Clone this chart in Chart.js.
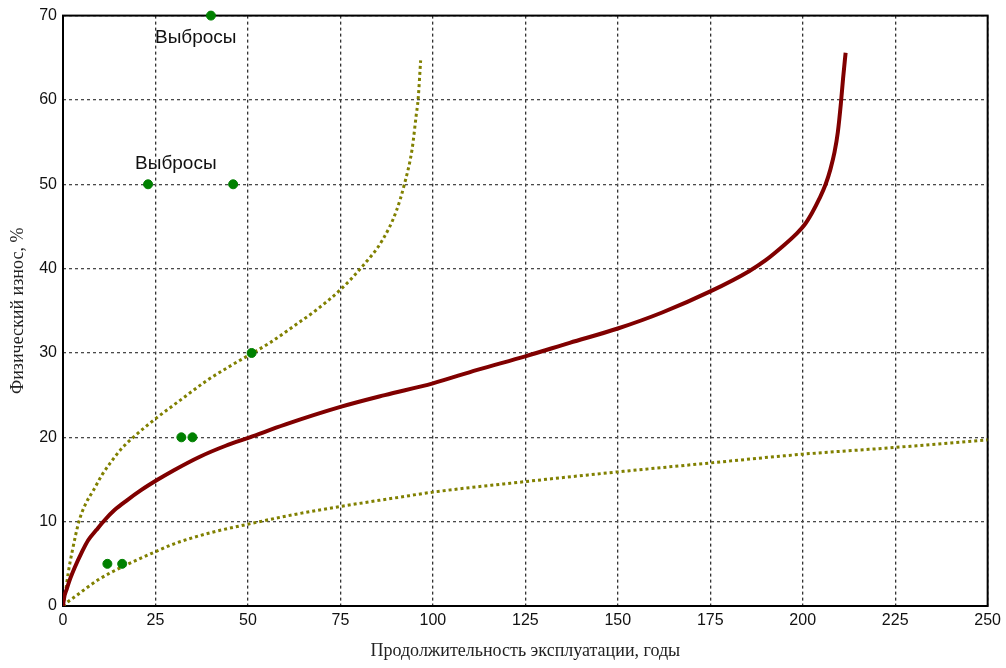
<!DOCTYPE html>
<html>
<head>
<meta charset="utf-8">
<script src="https://cdn.jsdelivr.net/npm/chart.js@4"></script>
<style>
    html, body { margin: 0; padding: 0; background: #ffffff; }
    canvas { display: block; }
</style>
</head>
<body>
<canvas id="wearChart" width="1006" height="668"></canvas>
<script>
// Axis ticks
const xTicks = [0, 25, 50, 75, 100, 125, 150, 175, 200, 225, 250];
const yTicks = [0, 10, 20, 30, 40, 50, 60, 70];

// Main (fitted) curve
const mainX = [0, 0.3, 1, 2, 3.2, 5, 6.8, 9, 11.3, 14, 17.2, 21, 25.3, 30, 37, 44, 50.5, 60, 75, 87, 100, 112, 125, 137, 150, 162, 175, 185.5, 190, 195, 198, 200.5, 202.5, 204.5, 206.2, 207.5, 208.6, 209.5, 210.3, 210.9, 211.6];
const mainY = [0, 1.0, 2.0, 3.3, 4.6, 6.3, 7.8, 9.0, 10.2, 11.4, 12.5, 13.7, 14.9, 16.1, 17.7, 19.0, 20.0, 21.5, 23.6, 25.0, 26.4, 28.0, 29.6, 31.2, 32.9, 34.8, 37.3, 39.7, 41.0, 42.8, 44.0, 45.2, 46.6, 48.3, 50.0, 51.8, 53.8, 56.2, 59.5, 62.5, 65.6];

// Upper bound (dotted)
const upperX = [0, 0.5, 1.4, 2.5, 4.3, 6, 8.2, 10.5, 12.7, 15.5, 19, 25.3, 32, 38.8, 45, 50.5, 55.9, 63.1, 68.5, 75, 81, 86.4, 90.1, 92.3, 94.4, 95.5, 96, 96.7];
const upperY = [0, 1.1, 3.9, 6.5, 10.0, 12.0, 13.7, 15.5, 16.9, 18.5, 20.0, 22.3, 24.5, 26.7, 28.4, 29.8, 31.2, 33.4, 35.1, 37.5, 40.3, 43.4, 46.8, 50.0, 54.2, 58.2, 60.0, 64.7];

// Lower bound (dotted)
const lowerX = [0, 1, 3.2, 9.5, 15.8, 24.8, 30.2, 40, 50, 62, 75, 91, 100, 125, 150, 175, 200, 225, 250];
const lowerY = [0, 0.4, 1.1, 3.1, 4.6, 6.4, 7.4, 8.7, 9.7, 10.8, 11.8, 12.9, 13.5, 14.75, 15.9, 16.96, 18.0, 18.8, 19.7];

// Observations
const obsX = [40, 23, 46, 51, 32, 35, 12, 16];
const obsY = [70, 50, 50, 30, 20, 20, 5, 5];

// Text notes placed in data units
const noteText = ['Выбросы', 'Выбросы'];
const noteX = [35.9, 30.5];
const noteY = [67.4, 52.4];

const toPoints = (xs, ys) => xs.map((x, i) => ({ x: x, y: ys[i] }));

const frameAndNotes = {
    id: 'frameAndNotes',
    beforeDatasetsDraw(chart) {
        const { ctx, chartArea: a } = chart;
        ctx.save();
        ctx.strokeStyle = '#000000';
        ctx.lineWidth = 2;
        ctx.strokeRect(a.left, a.top, a.right - a.left, a.bottom - a.top);
        ctx.restore();
    },
    afterDatasetsDraw(chart) {
        const { ctx, scales } = chart;
        ctx.save();
        ctx.font = '19px "Liberation Sans", Arial, sans-serif';
        ctx.fillStyle = '#111111';
        ctx.textAlign = 'center';
        ctx.textBaseline = 'middle';
        noteText.forEach((t, i) => {
            ctx.fillText(t, scales.x.getPixelForValue(noteX[i]), scales.y.getPixelForValue(noteY[i]));
        });
        ctx.restore();
    }
};

const tickFont = { family: '"Liberation Sans", Arial, sans-serif', size: 16 };
const titleFont = { family: '"Liberation Serif", "Times New Roman", serif', size: 18 };

new Chart(document.getElementById('wearChart'), {
    type: 'scatter',
    data: {
        datasets: [
            {
                label: 'Выбросы',
                data: toPoints(obsX, obsY),
                backgroundColor: '#008000',
                borderColor: '#008000',
                pointRadius: 4.5,
                clip: false,
                order: 0
            },
            {
                label: 'Физический износ',
                data: toPoints(mainX, mainY),
                showLine: true,
                borderColor: '#800000',
                borderWidth: 4,
                pointRadius: 0,
                cubicInterpolationMode: 'monotone',
                order: 1
            },
            {
                label: 'Верхняя граница',
                data: toPoints(upperX, upperY),
                showLine: true,
                borderColor: '#808000',
                borderWidth: 3,
                borderDash: [3, 3],
                pointRadius: 0,
                cubicInterpolationMode: 'monotone',
                order: 2
            },
            {
                label: 'Нижняя граница',
                data: toPoints(lowerX, lowerY),
                showLine: true,
                borderColor: '#808000',
                borderWidth: 3,
                borderDash: [3, 3],
                pointRadius: 0,
                cubicInterpolationMode: 'monotone',
                order: 3
            }
        ]
    },
    options: {
        responsive: false,
        animation: false,
        layout: {
            autoPadding: false,
            padding: { top: 13, right: 17, left: 0, bottom: 0 }
        },
        plugins: {
            legend: { display: false },
            tooltip: { enabled: false }
        },
        scales: {
            x: {
                type: 'linear',
                min: 0,
                max: 250,
                afterFit: (scale) => { scale.height = 62; },
                afterBuildTicks: (scale) => { scale.ticks = xTicks.map(v => ({ value: v })); },
                ticks: { font: tickFont, color: '#111111', padding: 5 },
                grid: { color: '#333333', lineWidth: 1.3, drawTicks: false },
                border: { display: false, dash: [3, 3] },
                title: {
                    display: true,
                    text: 'Продолжительность эксплуатации, годы',
                    font: titleFont,
                    color: '#222222',
                    padding: { top: 0, bottom: 6 }
                }
            },
            y: {
                type: 'linear',
                min: 0,
                max: 70,
                afterFit: (scale) => { scale.width = 63; },
                afterBuildTicks: (scale) => { scale.ticks = yTicks.map(v => ({ value: v })); },
                ticks: { font: tickFont, color: '#111111', padding: 6 },
                grid: { color: '#4a4a4a', lineWidth: 1.3, drawTicks: false },
                border: { display: false, dash: [3, 3] },
                title: {
                    display: true,
                    text: 'Физический износ, %',
                    font: titleFont,
                    color: '#222222',
                    padding: { top: 7, bottom: 0 }
                }
            }
        }
    },
    plugins: [frameAndNotes]
});
</script>
</body>
</html>
